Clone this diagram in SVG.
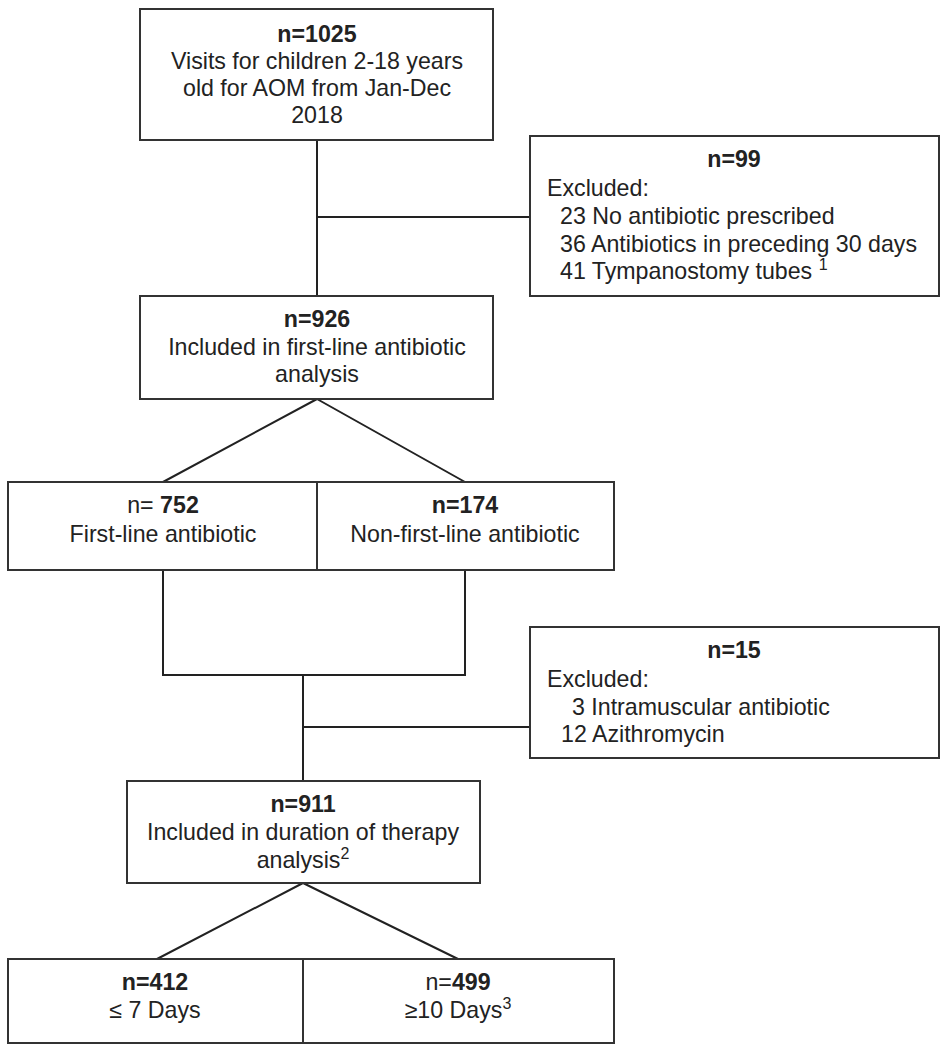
<svg xmlns="http://www.w3.org/2000/svg" width="952" height="1050" viewBox="0 0 952 1050">
<style>
.box{fill:#fff;stroke:#333;stroke-width:2}
.ln{fill:none;stroke:#222;stroke-width:2}
text{font-family:"Liberation Sans",Arial,sans-serif;font-size:23.2px;fill:#222}
.c{text-anchor:middle}
.b{font-weight:bold}
.sup{font-size:16px}
</style>
<rect width="952" height="1050" fill="#fff"/>
<g id="connectors">
<path class="ln" d="M317,140 V296"/>
<path class="ln" d="M317,217 H530"/>
<path class="ln" d="M317,399 L163,482 M317,399 L465,482"/>
<path class="ln" d="M163,570 V675 H465 V570"/>
<path class="ln" d="M303,675 V781"/>
<path class="ln" d="M303,727 H530"/>
<path class="ln" d="M303,883 L157,959 M303,883 L458,959"/>
</g>
<g id="n1025">
<rect class="box" x="140" y="9" width="353" height="131"/>
<text class="c b" x="317" y="42">n=1025</text>
<text class="c" x="317" y="69">Visits for children 2-18 years</text>
<text class="c" x="317" y="96">old for AOM from Jan-Dec</text>
<text class="c" x="317" y="123">2018</text>
</g>
<g id="n99">
<rect class="box" x="530" y="136" width="409" height="160"/>
<text class="c b" x="734" y="167">n=99</text>
<text x="547" y="196">Excluded:</text>
<text x="560" y="224">23 No antibiotic prescribed</text>
<text x="560" y="252">36 Antibiotics in preceding 30 days</text>
<text x="560" y="279">41 Tympanostomy tubes <tspan class="sup" dy="-9">1</tspan></text>
</g>
<g id="n926">
<rect class="box" x="140" y="296" width="353" height="103"/>
<text class="c b" x="317" y="327">n=926</text>
<text class="c" x="317" y="355">Included in first-line antibiotic</text>
<text class="c" x="317" y="382">analysis</text>
</g>
<g id="n752">
<rect class="box" x="8" y="482" width="309" height="88"/>
<text class="c" x="163" y="513">n= <tspan class="b">752</tspan></text>
<text class="c" x="163" y="542">First-line antibiotic</text>
</g>
<g id="n174">
<rect class="box" x="317" y="482" width="297" height="88"/>
<text class="c b" x="465" y="513">n=174</text>
<text class="c" x="465" y="542">Non-first-line antibiotic</text>
</g>
<g id="n15">
<rect class="box" x="530" y="627" width="409" height="131"/>
<text class="c b" x="734" y="658">n=15</text>
<text x="547" y="687">Excluded:</text>
<text x="572" y="715">3 Intramuscular antibiotic</text>
<text x="561" y="742">12 Azithromycin</text>
</g>
<g id="n911">
<rect class="box" x="127" y="781" width="353" height="102"/>
<text class="c b" x="303" y="812">n=911</text>
<text class="c" x="303" y="840">Included in duration of therapy</text>
<text class="c" x="303" y="868">analysis<tspan class="sup" dy="-9">2</tspan></text>
</g>
<g id="n412">
<rect class="box" x="8" y="959" width="295" height="84"/>
<text class="c b" x="155" y="990">n=412</text>
<text class="c" x="155" y="1018">≤ 7 Days</text>
</g>
<g id="n499">
<rect class="box" x="303" y="959" width="311" height="84"/>
<text class="c" x="458" y="990">n=<tspan class="b">499</tspan></text>
<text class="c" x="458" y="1018">≥10 Days<tspan class="sup" dy="-9">3</tspan></text>
</g>
</svg>
